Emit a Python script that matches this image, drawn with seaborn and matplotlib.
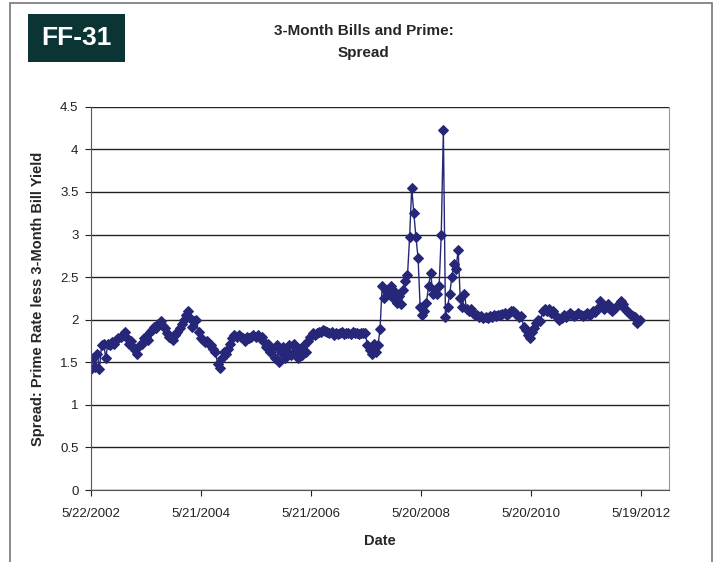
import pandas as pd
import numpy as np
import matplotlib.pyplot as plt
import matplotlib.dates as mdates
from matplotlib.patches import Rectangle
import seaborn as sns

# spread values, one every two weeks from 5/22/2002
spread = [
    1.42, 1.55, 1.45, 1.60, 1.42, 1.70, 1.72, 1.55, 1.72, 1.70, 1.74, 1.72, 1.76,
    1.78, 1.80, 1.82, 1.86, 1.78, 1.72, 1.75, 1.68, 1.64, 1.60, 1.70, 1.72, 1.78,
    1.80, 1.76, 1.85, 1.88, 1.92, 1.90, 1.95, 1.98, 1.93, 1.90, 1.84, 1.80, 1.78,
    1.76, 1.82, 1.86, 1.90, 1.95, 2.00, 2.05, 2.10, 2.02, 1.92, 1.98, 2.00, 1.85,
    1.78, 1.76, 1.74, 1.75, 1.72, 1.70, 1.66, 1.62, 1.48, 1.43, 1.55, 1.62, 1.60,
    1.66, 1.72, 1.78, 1.82, 1.80, 1.82, 1.80, 1.78, 1.75, 1.80, 1.78, 1.80, 1.82,
    1.80, 1.82, 1.78, 1.80, 1.74, 1.68, 1.72, 1.62, 1.66, 1.55, 1.70, 1.50, 1.62,
    1.68, 1.55, 1.62, 1.70, 1.58, 1.72, 1.64, 1.55, 1.66, 1.58, 1.70, 1.62, 1.75,
    1.80, 1.84, 1.82, 1.84, 1.86, 1.85, 1.88, 1.87, 1.85, 1.84, 1.85, 1.82, 1.84,
    1.83, 1.84, 1.85, 1.83, 1.84, 1.84, 1.83, 1.85, 1.84, 1.84, 1.83, 1.84, 1.84,
    1.84, 1.70, 1.65, 1.60, 1.72, 1.62, 1.70, 1.89, 2.40, 2.25, 2.35, 2.30, 2.40,
    2.25, 2.32, 2.20, 2.28, 2.18, 2.35, 2.45, 2.52, 2.97, 3.55, 3.25, 2.97, 2.73,
    2.15, 2.05, 2.10, 2.20, 2.40, 2.55, 2.30, 2.35, 2.30, 2.40, 3.00, 4.23, 2.03,
    2.15, 2.30, 2.50, 2.65, 2.60, 2.82, 2.25, 2.15, 2.30, 2.12, 2.10, 2.12, 2.08,
    2.06, 2.05, 2.03, 2.04, 2.02, 2.03, 2.02, 2.04, 2.03, 2.05, 2.04, 2.05, 2.06,
    2.07, 2.08, 2.06, 2.08, 2.10, 2.10, 2.08, 2.05, 2.03, 2.04, 1.92, 1.88, 1.82,
    1.78, 1.85, 1.90, 1.96, 2.00, 1.98, 2.10, 2.12, 2.10, 2.13, 2.08, 2.10, 2.05,
    2.03, 2.00, 2.02, 2.05, 2.03, 2.06, 2.08, 2.05, 2.04, 2.06, 2.08, 2.06, 2.04,
    2.06, 2.08, 2.05, 2.07, 2.10, 2.09, 2.12, 2.22, 2.15, 2.12, 2.15, 2.19, 2.12,
    2.10, 2.12, 2.15, 2.18, 2.22, 2.18, 2.12, 2.10, 2.08, 2.06, 2.04, 2.03, 1.96,
    2.00,
]
dates = pd.date_range("2002-05-22", periods=len(spread), freq="14D")

tick_dates = ["2002-05-22", "2004-05-21", "2006-05-21", "2008-05-20", "2010-05-20", "2012-05-19"]
tick_labels = ["5/22/2002", "5/21/2004", "5/21/2006", "5/20/2008", "5/20/2010", "5/19/2012"]
y_ticks = [0, 0.5, 1, 1.5, 2, 2.5, 3, 3.5, 4, 4.5]

df = pd.DataFrame({"Date": dates, "Spread": spread})

sns.set_style("white")
plt.rcParams["font.family"] = ["Liberation Sans", "DejaVu Sans"]

fig = plt.figure(figsize=(7.22, 5.62), dpi=100)
ax = fig.add_axes([0.126, 0.128, 0.801, 0.682])

navy = "#27277a"
sns.lineplot(data=df, x="Date", y="Spread", ax=ax, color=navy, linewidth=1.0,
             marker="D", markersize=5.5, markeredgecolor=navy, markerfacecolor=navy)

ax.set_ylim(0, 4.5)
ax.set_yticks(y_ticks)
ax.set_yticklabels([f"{v:g}" for v in y_ticks])
ax.set_xlim(pd.Timestamp("2002-05-22"), pd.Timestamp("2012-11-22"))
ax.set_xticks(pd.to_datetime(tick_dates))
ax.set_xticklabels(tick_labels)

ax.grid(axis="y", color="#222222", linewidth=1.0)
ax.grid(axis="x", visible=False)
ax.set_axisbelow(True)
ax.spines["top"].set_visible(False)
ax.spines["right"].set_color("#999999")
ax.spines["left"].set_color("#555555")
ax.spines["bottom"].set_color("#555555")
ax.tick_params(axis="both", which="major", direction="out", length=4, width=0.8,
               labelsize=9.5, colors="#222222", bottom=True, left=True)
ax.tick_params(axis="x", pad=9)
ax.tick_params(axis="y", pad=5)

ax.set_xlabel("Date", fontsize=10.5, fontweight="bold", labelpad=10)
ax.set_ylabel("Spread: Prime Rate less 3-Month Bill Yield", fontsize=10.5,
              fontweight="bold", labelpad=11)

fig.text(0.504, 0.944, "3-Month Bills and Prime:", ha="center", va="center",
         fontsize=11, fontweight="bold")
fig.text(0.504, 0.905, "Spread", ha="center", va="center",
         fontsize=11, fontweight="bold")

# FF-31 label box
fig.patches.append(Rectangle((28 / 722, 1 - 62 / 562), 97 / 722, 48 / 562,
                             transform=fig.transFigure, facecolor="#0b3535",
                             edgecolor="none", zorder=2))
fig.text(76 / 722, 1 - 38 / 562, "FF-31", ha="center", va="center",
         fontsize=19, fontweight="bold", color="white", zorder=3)

# outer frame
fig.patches.append(Rectangle((10 / 722, -0.01), 702 / 722, 1 - 3 / 562 + 0.01,
                             transform=fig.transFigure, facecolor="none",
                             edgecolor="#777777", linewidth=1.2, zorder=1))

fig.savefig("out.png", dpi=100)
